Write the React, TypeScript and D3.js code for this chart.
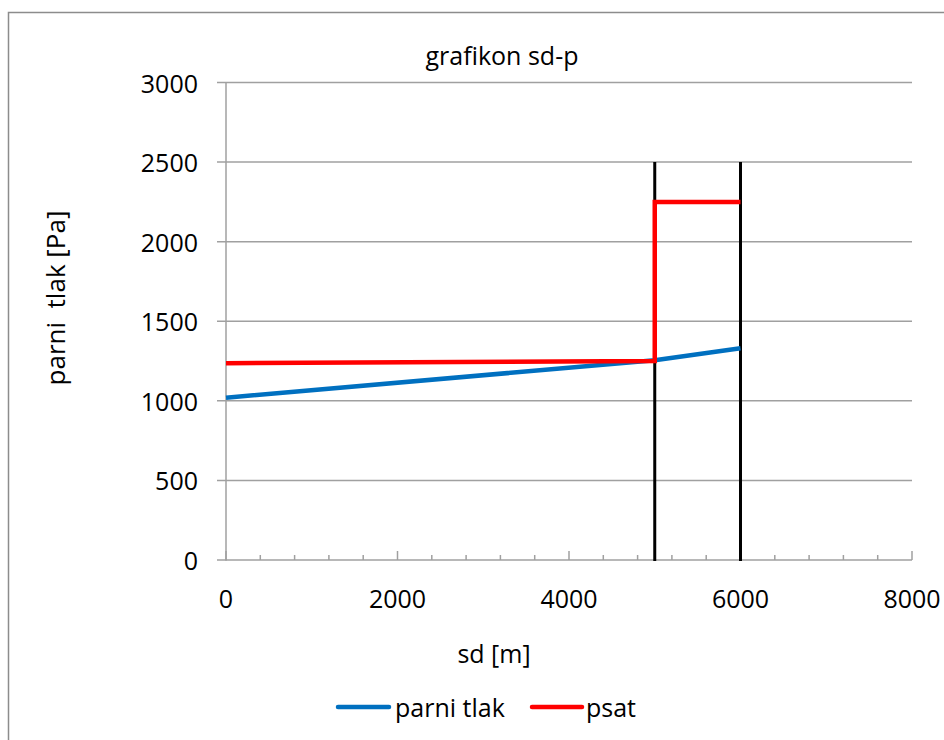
import React from "react";
import * as d3 from "d3";

const title = "grafikon sd-p";
const xLabel = "sd [m]";
const yLabel = "parni  tlak [Pa]";
const xTicks = [0, 2000, 4000, 6000, 8000];
const yTicks = [0, 500, 1000, 1500, 2000, 2500, 3000];

const parniX = [0, 5000, 6000];
const parniY = [1020, 1255, 1330];
const psatX = [0, 5000, 5000, 6000];
const psatY = [1236, 1250, 2250, 2250];
const boundaryX = [5000, 6000];
const boundaryTop = 2500;

const seriesNames = ["parni tlak", "psat"];
const seriesColors = ["#0070C0", "#FF0000"];

const FONT = "'Open Sans', sans-serif";

export default function App() {
  const W = 944, H = 740;
  const x = d3.scaleLinear().domain([0, 8000]).range([226, 912]);
  const y = d3.scaleLinear().domain([0, 3000]).range([560, 82.5]);
  const line = d3.line<[number, number]>().x(d => x(d[0])).y(d => y(d[1]));
  const parni = parniX.map((v, i) => [v, parniY[i]] as [number, number]);
  const psat = psatX.map((v, i) => [v, psatY[i]] as [number, number]);
  const minor = d3.range(0, 8001, 400);
  const grid = "#a0a0a0";
  const fs = 25;

  return (
    <svg width={W} height={H} style={{ position: "absolute", left: 0, top: 0 }} fontFamily={FONT}>
      <rect x={0} y={0} width={W} height={H} fill="#fff" />
      <rect x={8.5} y={12.5} width={W + 10} height={H + 10} fill="none" stroke="#8c8c8c" strokeWidth={1.5} />
      <text x={502} y={55} textAnchor="middle" dominantBaseline="central" fontSize={fs} fill="#000">{title}</text>

      {yTicks.map(t => (
        <g key={t}>
          <line x1={217} x2={912} y1={y(t)} y2={y(t)} stroke={grid} strokeWidth={1.5} />
          <text x={198} y={y(t)} textAnchor="end" dominantBaseline="central" fontSize={fs} fill="#000">{t}</text>
        </g>
      ))}
      <line x1={x(0)} x2={x(0)} y1={y(3000)} y2={y(0) + 0.75} stroke={grid} strokeWidth={1.5} />
      {minor.map(t => (
        <line key={t} x1={x(t)} x2={x(t)} y1={y(0)} y2={y(0) - (t % 2000 === 0 ? 9 : 5)} stroke={grid} strokeWidth={1.5} />
      ))}
      {xTicks.map(t => (
        <text key={t} x={x(t)} y={598} textAnchor="middle" dominantBaseline="central" fontSize={fs} fill="#000">{t}</text>
      ))}

      <text x={494} y={653} textAnchor="middle" dominantBaseline="central" fontSize={fs} fill="#000">{xLabel}</text>
      <text transform={`translate(55,298) rotate(-90)`} textAnchor="middle" dominantBaseline="central" fontSize={26} fill="#000" style={{ whiteSpace: "pre" }}>{yLabel}</text>

      {boundaryX.map(b => (
        <line key={b} x1={x(b)} x2={x(b)} y1={y(0) + 1} y2={y(boundaryTop)} stroke="#000" strokeWidth={3} />
      ))}

      <path d={line(parni) || ""} fill="none" stroke={seriesColors[0]} strokeWidth={4.5} />
      <path d={line(psat) || ""} fill="none" stroke={seriesColors[1]} strokeWidth={4.5} strokeLinejoin="miter" />

      <line x1={338} x2={389} y1={707} y2={707} stroke={seriesColors[0]} strokeWidth={4.5} strokeLinecap="round" />
      <text x={395} y={707} dominantBaseline="central" fontSize={fs} fill="#000">{seriesNames[0]}</text>
      <line x1={532} x2={582} y1={707} y2={707} stroke={seriesColors[1]} strokeWidth={4.5} strokeLinecap="round" />
      <text x={586} y={707} dominantBaseline="central" fontSize={fs} fill="#000">{seriesNames[1]}</text>
    </svg>
  );
}
